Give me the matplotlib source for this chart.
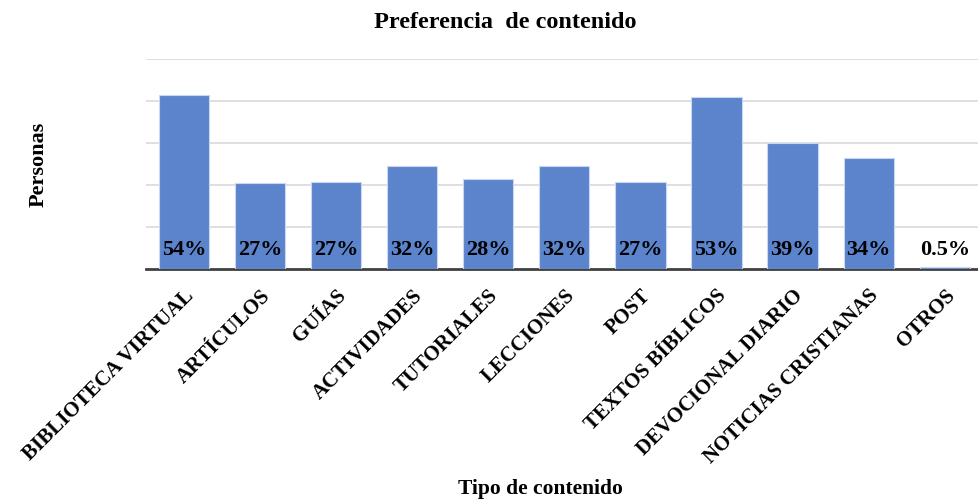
import matplotlib.pyplot as plt
import numpy as np

categorias = ["BIBLIOTECA VIRTUAL", "ARTÍCULOS", "GUÍAS", "ACTIVIDADES", "TUTORIALES",
              "LECCIONES", "POST", "TEXTOS BÍBLICOS", "DEVOCIONAL DIARIO",
              "NOTICIAS CRISTIANAS", "OTROS"]
personas = [83, 41, 41.5, 49, 43, 49, 41.5, 82, 60, 53, 0.8]
etiquetas = ["54%", "27%", "27%", "32%", "28%", "32%", "27%", "53%", "39%", "34%", "0.5%"]

plt.rcParams['font.family'] = ['Liberation Serif', 'DejaVu Serif']

fig = plt.figure(figsize=(9.79, 5.0), dpi=100)
ax = fig.add_axes([0.149, 0.462, 0.851, 0.42])

x = np.arange(len(categorias))
bars = ax.bar(x, personas, width=0.66, color='#5B84CC', edgecolor='#C9D8F0', linewidth=0.8, zorder=3)

#Etiquetas de porcentaje abajo dentro de la barra
for xi, lab in zip(x, etiquetas):
    ax.text(xi, 9, lab, ha='center', va='center', fontsize=16, fontweight='bold', zorder=4)

ax.set_xlim(-0.5, len(categorias) - 0.55)
ax.set_ylim(0, 100)
ax.set_yticks([20, 40, 60, 80, 100])
ax.yaxis.grid(True, color='#D9D9D9', linewidth=1.2, zorder=0)
ax.tick_params(axis='y', length=0, labelleft=False)
ax.tick_params(axis='x', length=0, pad=12)
ax.set_xticks(x)
ax.set_xticklabels(categorias, rotation=45, ha='right', rotation_mode='anchor',
                   fontsize=15, fontweight='bold')

for s in ['top', 'right', 'left']:
    ax.spines[s].set_visible(False)
ax.spines['bottom'].set_color('#404040')
ax.spines['bottom'].set_linewidth(2)

fig.text(0.516, 0.955, "Preferencia  de contenido", ha='center', va='center',
         fontsize=17.5, fontweight='bold')
fig.text(0.552, 0.022, "Tipo de contenido", ha='center', va='center',
         fontsize=15.5, fontweight='bold')
fig.text(0.039, 0.672, "Personas", ha='center', va='center', rotation=90,
         fontsize=16, fontweight='bold')

fig.savefig('out.png', dpi=100)
